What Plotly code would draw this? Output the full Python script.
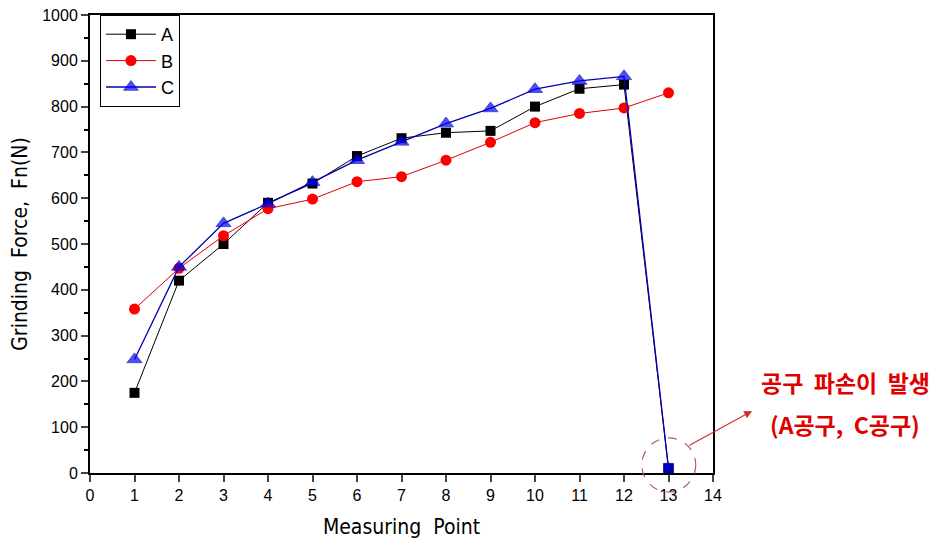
import plotly.graph_objects as go

points = list(range(1, 14))
series_a = [175, 420, 500, 590, 632, 692, 731, 743, 747, 800, 839, 848, 10]
series_b = [358, 447, 518, 577, 598, 636, 647, 683, 722, 765, 785, 797, 830]
series_c = [248, 450, 545, 588, 635, 683, 723, 763, 796, 838, 856, 866, 10]
x_ticks = list(range(0, 15))
y_ticks = list(range(0, 1001, 100))

fig = go.Figure()
fig.add_trace(go.Scatter(x=points, y=series_a, name="A", mode="lines+markers",
                         line=dict(color="black", width=1),
                         marker=dict(symbol="square", size=10, color="black")))
fig.add_trace(go.Scatter(x=points, y=series_b, name="B", mode="lines+markers",
                         line=dict(color="#e00000", width=1),
                         marker=dict(symbol="circle", size=11, color="#ff0000")))
fig.add_trace(go.Scatter(x=points, y=series_c, name="C", mode="lines+markers",
                         line=dict(color="#0000b0", width=1.3),
                         marker=dict(symbol=["triangle-up"] * 12 + ["square"], size=[13] * 12 + [10],
                                     color="#0000ff")))

tickfont = dict(family="Liberation Sans, Arial", size=16, color="black")
titlefont = dict(family="Liberation Sans Narrow, Arial Narrow, DejaVu Sans Condensed", size=21, color="black")

fig.update_layout(
    width=939, height=538,
    margin=dict(l=82, r=234, t=7, b=73, autoexpand=False),
    plot_bgcolor="white", paper_bgcolor="white",
    showlegend=True,
    legend=dict(x=0.016, y=1, xanchor="left", yanchor="top",
                bordercolor="black", borderwidth=1, bgcolor="white",
                font=dict(family="Liberation Sans, Arial", size=18, color="black"),
                tracegroupgap=0, itemwidth=50),
    xaxis=dict(range=[0, 14], tickvals=x_ticks, ticks="outside", ticklen=7, tickwidth=2,
               showline=True, linewidth=2, linecolor="black", mirror=True, showgrid=False,
               zeroline=False, tickfont=tickfont, automargin=False, ticklabeloverflow="allow",
               title=dict(text="Measuring  Point", font=titlefont, standoff=16)),
    yaxis=dict(range=[0, 1000], tickvals=y_ticks, ticks="outside", ticklen=7, tickwidth=2,
               showline=True, linewidth=2, linecolor="black", mirror=True, showgrid=False,
               zeroline=False, tickfont=tickfont, automargin=False, ticklabeloverflow="allow",
               minor=dict(dtick=50, ticks="outside", ticklen=4, tickwidth=1.5, tickcolor="black"),
               title=dict(text="Grinding  Force,  Fn(N)", font=titlefont, standoff=10)),
)

fig.add_shape(type="circle", xref="paper", yref="paper",
              x0=0.929 - 0.0433, x1=0.929 + 0.0433, y0=0.0175 - 0.059, y1=0.0175 + 0.059,
              line=dict(color="#b05a5a", width=1.2, dash="dash"))

fig.add_annotation(xref="paper", yref="paper", x=1.0626, y=0.1354, ax=-64, ay=35,
                   text="", showarrow=True, arrowhead=2, arrowsize=1.3, arrowwidth=1.2,
                   arrowcolor="#d03030")

redfont = dict(family="Noto Sans CJK KR", size=23, color="#e00000")
fig.add_annotation(xref="paper", yref="paper", x=(845 - 90) / 623, y=(473 - 382) / 458,
                   xanchor="center", yanchor="middle",
                   text="<b>공구  파손이  발생</b>", showarrow=False, font=redfont)
fig.add_annotation(xref="paper", yref="paper", x=(845 - 90) / 623, y=(473 - 424) / 458,
                   xanchor="center", yanchor="middle",
                   text="<b>(A공구,  C공구)</b>", showarrow=False, font=redfont)

fig.write_html("out.html")
